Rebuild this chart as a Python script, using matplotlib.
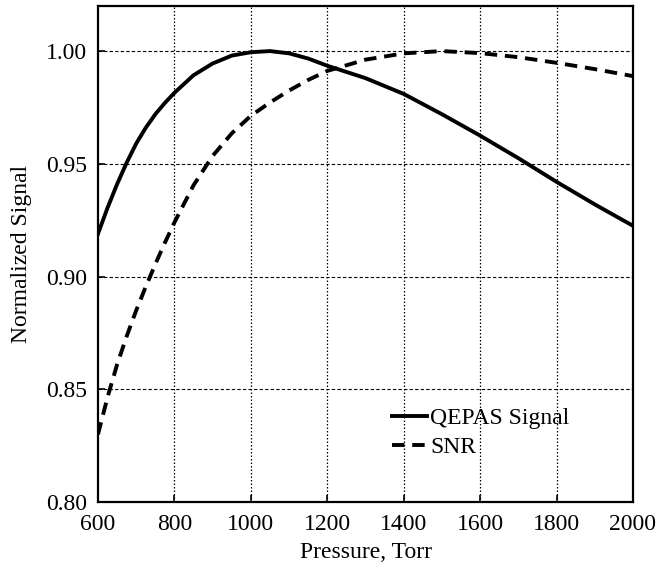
import matplotlib
matplotlib.use("Agg")
import matplotlib.pyplot as plt

pressure = [600, 625, 650, 675, 700, 725, 750, 775, 800, 850, 900, 950, 1000, 1050,
            1100, 1150, 1200, 1300, 1400, 1500, 1600, 1700, 1800, 1900, 2000]
qepas = [0.919, 0.9305, 0.941, 0.9505, 0.9590, 0.966, 0.972, 0.977, 0.9815, 0.9893,
         0.9945, 0.998, 0.9995, 1.000, 0.999, 0.9967, 0.9935, 0.988, 0.981, 0.972,
         0.9625, 0.9525, 0.942, 0.932, 0.9225]
snr = [0.830, 0.8465, 0.861, 0.8735, 0.8850, 0.8955, 0.9055, 0.9150, 0.9240, 0.9405,
       0.9535, 0.9635, 0.9713, 0.9772, 0.9825, 0.9872, 0.9912, 0.9962, 0.999, 1.000,
       0.9991, 0.9973, 0.9948, 0.992, 0.9889]

xticks = [600, 800, 1000, 1200, 1400, 1600, 1800, 2000]
yticks = [0.80, 0.85, 0.90, 0.95, 1.00]

plt.rcParams['font.family'] = ['Liberation Serif', 'DejaVu Serif']
plt.rcParams['font.size'] = 17

fig = plt.figure(figsize=(6.56, 5.69), dpi=100)
ax = fig.add_axes([98/656, 1-502/569, (633-98)/656, (502-6)/569])

ax.plot(pressure, qepas, color='black', lw=2.8, label='QEPAS Signal',
        solid_joinstyle='round')
ax.plot(pressure, snr, color='black', lw=2.8, dashes=(3.2, 2.0), label='SNR',
        dash_joinstyle='round')

ax.set_xlim(600, 2000)
ax.set_ylim(0.80, 1.02)
ax.set_xticks(xticks)
ax.set_yticks(yticks)
ax.set_yticklabels([f"{v:.2f}" for v in yticks])
ax.set_xticklabels([str(v) for v in xticks])

for y in yticks[1:]:
    ax.axhline(y, color='black', lw=0.8, dashes=(3, 2), zorder=0)
for x in xticks[1:-1]:
    ax.axvline(x, color='black', lw=0.9, dashes=(1.2, 1.6), zorder=0)

for s in ax.spines.values():
    s.set_linewidth(1.6)
ax.tick_params(direction='in', length=5, width=1.2, labelsize=17)
ax.tick_params(axis='x', pad=9)
ax.tick_params(axis='y', pad=8)

ax.set_xlabel('Pressure, Torr', fontsize=17, labelpad=5)
ax.set_ylabel('Normalized Signal', fontsize=17, labelpad=10)

ax.legend(loc='lower left', bbox_to_anchor=(0.531, 0.07), frameon=False,
          fontsize=17, handlelength=1.5, handletextpad=0.15, labelspacing=0.3,
          borderaxespad=0)

fig.savefig('out.png', dpi=100)
